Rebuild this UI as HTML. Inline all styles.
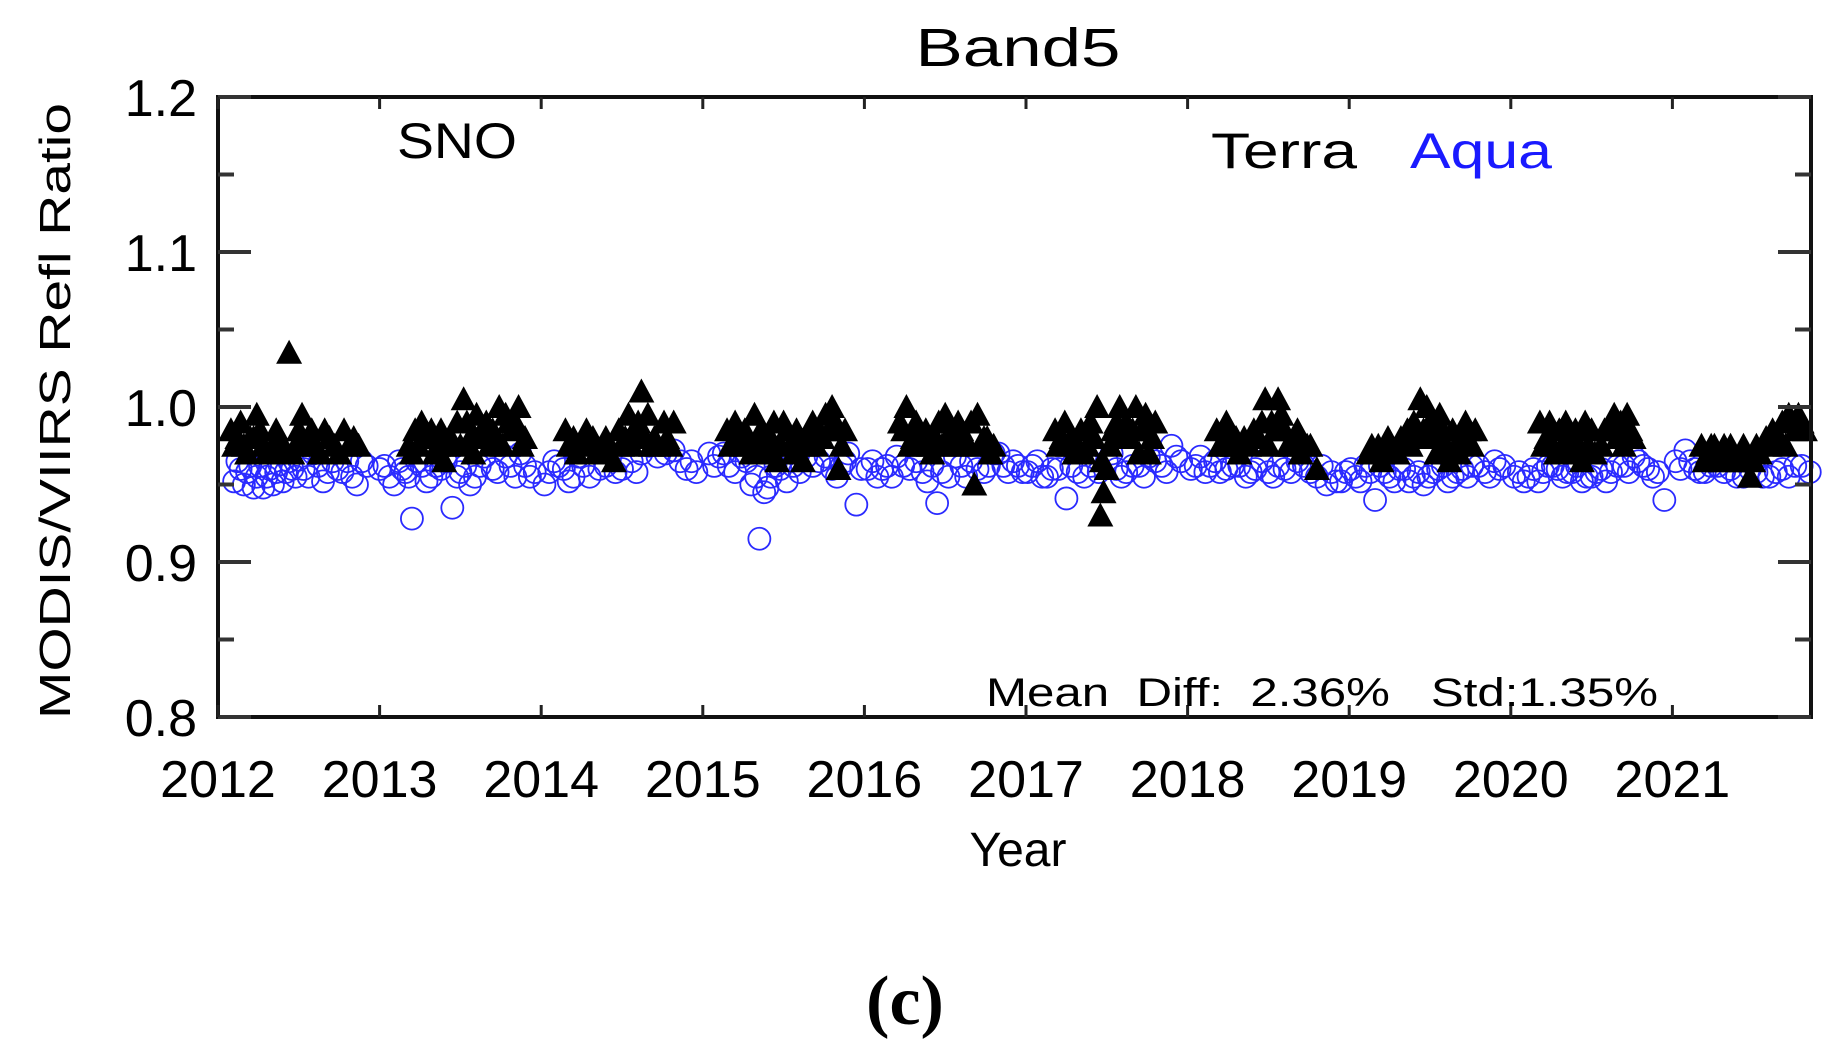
<!DOCTYPE html>
<html><head><meta charset="utf-8"><style>
body{margin:0;background:#fff;}
svg{display:block;}
text{font-family:"Liberation Sans",sans-serif;}
</style></head><body>
<svg id="chart" width="1834" height="1042" viewBox="0 0 1834 1042" xmlns="http://www.w3.org/2000/svg">
<text x="1018" y="66" font-size="54" text-anchor="middle" textLength="205" lengthAdjust="spacingAndGlyphs">Band5</text>
<g id="marks"></g>
<rect x="218" y="97" width="1593" height="620" fill="none" stroke="#111" stroke-width="4"/>
<g id="axes"></g>
<text transform="translate(70,411) rotate(-90)" font-size="44" text-anchor="middle" textLength="616" lengthAdjust="spacingAndGlyphs">MODIS/VIIRS Refl Ratio</text>
<text x="1018" y="866" font-size="48" text-anchor="middle">Year</text>
<text x="397" y="158" font-size="50" textLength="120" lengthAdjust="spacingAndGlyphs">SNO</text>
<text x="1211" y="168" font-size="50" textLength="146" lengthAdjust="spacingAndGlyphs">Terra</text>
<text x="1410" y="168" font-size="50" fill="#1a1aff" textLength="142" lengthAdjust="spacingAndGlyphs">Aqua</text>
<text x="986" y="706" font-size="40" textLength="672" lengthAdjust="spacingAndGlyphs" xml:space="preserve">Mean  Diff:  2.36%   Std:1.35%</text>
<text x="905" y="1024" font-size="70" font-weight="bold" text-anchor="middle" style="font-family:'Liberation Serif',serif">(c)</text>
</svg>
<script>
const yTicks=[0.8,0.9,1.0,1.1,1.2];
const yTickLabels=["0.8","0.9","1.0","1.1","1.2"];
const xTicks=[2012,2013,2014,2015,2016,2017,2018,2019,2020,2021];
const xTickLabels=["2012","2013","2014","2015","2016","2017","2018","2019","2020","2021"];
const terraX=[2012.08,2012.12,2012.16,2012.2,2012.24,2012.28,2012.36,2012.4,2012.44,2012.48,2012.52,2012.56,2012.6,2012.66,2012.72,2012.78,2012.84,
2013.18,2013.22,2013.26,2013.3,2013.34,2013.38,2013.42,2013.48,2013.52,2013.56,2013.6,2013.64,2013.68,2013.74,2013.8,2013.86,2013.9,
2014.15,2014.2,2014.26,2014.32,2014.38,2014.42,2014.48,2014.54,2014.58,2014.62,2014.66,2014.7,2014.76,2014.82,
2015.15,2015.2,2015.24,2015.28,2015.32,2015.36,2015.4,2015.44,2015.48,2015.52,2015.56,2015.6,2015.64,2015.68,2015.72,2015.76,2015.8,2015.84,2015.88,
2016.22,2016.26,2016.3,2016.34,2016.38,2016.42,2016.46,2016.5,2016.54,2016.58,2016.62,2016.68,2016.7,2016.74,2016.8,
2017.18,2017.22,2017.26,2017.3,2017.34,2017.38,2017.42,2017.44,2017.46,2017.48,2017.5,2017.54,2017.58,2017.62,2017.64,2017.68,2017.72,2017.76,2017.8,
2018.18,2018.22,2018.26,2018.32,2018.38,2018.44,2018.48,2018.52,2018.56,2018.6,2018.64,2018.68,2018.74,2018.8,
2019.12,2019.18,2019.24,2019.3,2019.36,2019.4,2019.44,2019.48,2019.52,2019.56,2019.6,2019.64,2019.68,2019.74,2019.78,
2020.18,2020.22,2020.26,2020.3,2020.34,2020.38,2020.42,2020.46,2020.5,2020.56,2020.6,2020.64,2020.68,2020.72,2020.76,
2021.18,2021.22,2021.26,2021.3,2021.36,2021.42,2021.46,2021.48,2021.52,2021.58,2021.62,2021.68,2021.72,2021.76,2021.8,
2012.10,2012.14,2012.18,2012.22,2012.26,2012.30,2012.34,2012.38,2012.46,2012.50,2012.54,2012.58,2012.63,2012.69,2012.75,2012.81,2012.87,
2013.20,2013.24,2013.28,2013.32,2013.36,2013.40,2013.44,2013.50,2013.54,2013.58,2013.62,2013.66,2013.70,2013.72,2013.76,2013.78,2013.82,2013.84,2013.88,
2014.17,2014.22,2014.28,2014.34,2014.40,2014.45,2014.50,2014.52,2014.56,2014.60,2014.64,2014.68,2014.72,2014.78,2014.80,
2015.17,2015.22,2015.26,2015.30,2015.34,2015.38,2015.42,2015.46,2015.50,2015.54,2015.58,2015.62,2015.66,2015.70,2015.74,2015.78,2015.82,2015.86,
2016.24,2016.28,2016.32,2016.36,2016.40,2016.44,2016.48,2016.52,2016.56,2016.60,2016.64,2016.66,2016.72,2016.76,2016.78,
2017.20,2017.24,2017.28,2017.32,2017.36,2017.40,2017.47,2017.52,2017.56,2017.60,2017.66,2017.70,2017.74,2017.78,
2018.20,2018.24,2018.28,2018.30,2018.35,2018.41,2018.46,2018.50,2018.54,2018.58,2018.62,2018.66,2018.70,2018.76,
2019.14,2019.20,2019.26,2019.32,2019.38,2019.42,2019.46,2019.50,2019.54,2019.58,2019.62,2019.66,2019.70,2019.72,2019.76,
2020.20,2020.24,2020.28,2020.32,2020.36,2020.40,2020.44,2020.48,2020.52,2020.58,2020.62,2020.66,2020.70,2020.74,
2021.20,2021.24,2021.28,2021.32,2021.38,2021.44,2021.50,2021.54,2021.60,2021.66,2021.70,2021.74,2021.78,2021.82];
const terraY=[0.985,0.98,0.975,0.98,0.995,0.975,0.985,0.97,1.035,0.975,0.995,0.98,0.975,0.985,0.975,0.985,0.98,
0.975,0.985,0.99,0.98,0.97,0.985,0.975,0.99,1.005,0.98,0.995,0.985,0.975,1.0,0.99,1.0,0.98,
0.985,0.98,0.975,0.98,0.975,0.97,0.985,0.995,0.985,1.01,0.995,0.98,0.99,0.99,
0.985,0.99,0.975,0.98,0.995,0.985,0.97,0.99,0.975,0.985,0.97,0.98,0.975,0.99,0.985,0.995,1.0,0.96,0.985,
0.99,1.0,0.98,0.975,0.985,0.97,0.99,0.995,0.985,0.99,0.98,0.95,0.995,0.98,0.975,
0.985,0.98,0.975,0.97,0.985,0.975,0.98,1.0,0.93,0.945,0.96,0.985,1.0,0.99,0.98,1.0,0.985,0.97,0.99,
0.985,0.975,0.98,0.97,0.975,0.98,1.005,0.99,1.005,0.985,0.975,0.985,0.975,0.96,
0.97,0.975,0.98,0.97,0.985,0.99,1.005,1.0,0.98,0.995,0.975,0.985,0.97,0.985,0.985,
0.99,0.98,0.975,0.985,0.99,0.97,0.975,0.99,0.985,0.975,0.985,0.995,0.99,0.995,0.98,
0.975,0.97,0.975,0.97,0.975,0.965,0.97,0.955,0.975,0.98,0.985,0.99,0.995,0.985,0.99,
0.975,0.99,0.97,0.98,0.985,0.97,0.975,0.98,0.97,0.985,0.975,0.985,0.97,0.98,0.97,0.975,0.975,
0.97,0.975,0.98,0.985,0.975,0.965,0.98,0.975,0.99,0.97,0.98,0.99,0.985,0.98,0.975,0.995,0.985,0.99,0.975,
0.975,0.97,0.985,0.97,0.98,0.965,0.975,0.98,0.975,0.99,0.98,0.975,0.975,0.98,0.975,
0.975,0.98,0.985,0.97,0.975,0.98,0.98,0.965,0.99,0.975,0.985,0.965,0.98,0.975,0.98,0.985,0.99,0.975,
0.985,0.975,0.99,0.98,0.975,0.98,0.975,0.98,0.975,0.985,0.975,0.99,0.975,0.98,0.97,
0.975,0.99,0.98,0.975,0.97,0.99,0.965,0.975,0.99,0.98,0.985,0.97,0.995,0.98,
0.975,0.99,0.975,0.98,0.98,0.985,0.99,0.975,0.985,0.995,0.975,0.98,0.97,0.975,
0.975,0.965,0.97,0.98,0.975,0.98,0.985,0.99,0.97,0.985,0.965,0.975,0.98,0.99,0.975,
0.975,0.99,0.97,0.975,0.98,0.985,0.965,0.975,0.97,0.985,0.99,0.98,0.975,0.985,
0.965,0.975,0.965,0.975,0.965,0.975,0.965,0.97,0.975,0.98,0.975,0.99,0.995,0.985];
const aquaX=[2012.1,2012.14,2012.18,2012.22,2012.26,2012.3,2012.34,2012.38,2012.42,2012.46,2012.5,2012.56,2012.62,2012.68,2012.74,2012.8,2012.86,2012.92,
2013.0,2013.06,2013.12,2013.16,2013.2,2013.26,2013.32,2013.38,2013.45,2013.5,2013.56,2013.62,2013.7,2013.78,2013.84,2013.9,2013.96,
2014.02,2014.08,2014.14,2014.2,2014.26,2014.36,2014.46,2014.56,2014.62,2014.72,2014.82,2014.9,2014.96,
2015.04,2015.1,2015.16,2015.24,2015.3,2015.35,2015.38,2015.42,2015.48,2015.56,2015.64,2015.72,2015.8,2015.86,2015.9,2015.95,
2016.02,2016.08,2016.14,2016.2,2016.28,2016.36,2016.42,2016.45,2016.52,2016.6,2016.66,2016.74,2016.8,2016.86,2016.92,2016.98,
2017.04,2017.1,2017.16,2017.25,2017.32,2017.4,2017.5,2017.56,2017.62,2017.7,2017.76,2017.84,2017.9,2017.96,
2018.02,2018.08,2018.14,2018.2,2018.28,2018.36,2018.42,2018.5,2018.56,2018.64,2018.72,2018.8,2018.86,2018.92,2018.98,
2019.04,2019.1,2019.16,2019.22,2019.28,2019.34,2019.4,2019.46,2019.52,2019.58,2019.64,2019.7,2019.76,2019.84,2019.9,2019.96,
2020.02,2020.08,2020.14,2020.2,2020.26,2020.32,2020.38,2020.44,2020.5,2020.56,2020.62,2020.7,2020.76,2020.82,2020.88,2020.95,
2021.02,2021.08,2021.14,2021.2,2021.28,2021.36,2021.44,2021.52,2021.6,2021.68,2021.76,2021.85,
2012.12,2012.16,2012.20,2012.24,2012.28,2012.32,2012.36,2012.40,2012.44,2012.48,2012.53,2012.59,2012.65,2012.71,2012.77,2012.83,2012.89,
2013.03,2013.09,2013.14,2013.18,2013.23,2013.29,2013.35,2013.41,2013.48,2013.53,2013.59,2013.65,2013.73,2013.81,2013.87,2013.93,
2014.05,2014.11,2014.17,2014.23,2014.30,2014.40,2014.50,2014.59,2014.67,2014.77,2014.86,2014.93,
2015.07,2015.13,2015.20,2015.27,2015.33,2015.40,2015.45,2015.52,2015.60,2015.68,2015.76,2015.83,2015.88,2015.98,
2016.05,2016.11,2016.17,2016.24,2016.32,2016.39,2016.48,2016.56,2016.63,2016.70,2016.77,2016.83,2016.89,2016.95,
2017.01,2017.07,2017.13,2017.20,2017.28,2017.36,2017.45,2017.53,2017.59,2017.66,2017.73,2017.80,2017.87,2017.93,
2018.05,2018.11,2018.17,2018.24,2018.32,2018.39,2018.46,2018.53,2018.60,2018.68,2018.76,2018.83,2018.89,2018.95,
2019.01,2019.07,2019.13,2019.19,2019.25,2019.31,2019.37,2019.43,2019.49,2019.55,2019.61,2019.67,2019.73,2019.80,2019.87,2019.93,
2020.05,2020.11,2020.17,2020.23,2020.29,2020.35,2020.41,2020.47,2020.53,2020.59,2020.66,2020.73,2020.79,2020.85,2020.91,
2021.05,2021.11,2021.17,2021.24,2021.32,2021.40,2021.48,2021.56,2021.64,2021.72,2021.80];
const aquaY=[0.952,0.96,0.958,0.948,0.962,0.955,0.95,0.963,0.958,0.96,0.966,0.955,0.962,0.958,0.96,0.965,0.95,0.962,
0.96,0.955,0.965,0.958,0.928,0.962,0.955,0.96,0.935,0.958,0.95,0.962,0.96,0.968,0.955,0.962,0.958,
0.95,0.965,0.96,0.955,0.962,0.96,0.958,0.965,0.97,0.968,0.972,0.96,0.958,
0.97,0.968,0.962,0.968,0.95,0.915,0.945,0.955,0.96,0.962,0.968,0.965,0.96,0.962,0.97,0.937,
0.96,0.955,0.962,0.968,0.96,0.958,0.962,0.938,0.955,0.962,0.965,0.958,0.97,0.962,0.965,0.958,
0.962,0.955,0.96,0.941,0.958,0.962,0.965,0.96,0.958,0.962,0.968,0.962,0.975,0.965,
0.96,0.968,0.962,0.958,0.962,0.955,0.96,0.958,0.962,0.958,0.962,0.955,0.95,0.952,0.958,
0.955,0.962,0.94,0.958,0.952,0.96,0.955,0.95,0.958,0.962,0.955,0.96,0.962,0.958,0.965,0.962,
0.955,0.952,0.96,0.958,0.962,0.955,0.958,0.952,0.955,0.96,0.958,0.962,0.968,0.962,0.955,0.94,
0.965,0.972,0.96,0.958,0.962,0.96,0.955,0.958,0.955,0.96,0.962,0.958,
0.965,0.95,0.962,0.955,0.948,0.96,0.958,0.952,0.965,0.955,0.96,0.97,0.952,0.965,0.958,0.955,0.965,
0.962,0.95,0.96,0.955,0.965,0.952,0.962,0.965,0.955,0.962,0.955,0.968,0.958,0.962,0.97,0.955,
0.958,0.962,0.952,0.968,0.955,0.962,0.96,0.958,0.975,0.97,0.965,0.965,
0.962,0.97,0.958,0.965,0.955,0.948,0.962,0.952,0.958,0.962,0.968,0.955,0.965,0.96,
0.965,0.96,0.955,0.962,0.965,0.952,0.958,0.968,0.955,0.96,0.962,0.97,0.958,0.962,
0.958,0.965,0.955,0.96,0.962,0.955,0.958,0.97,0.955,0.962,0.955,0.965,0.958,0.968,
0.962,0.958,0.965,0.96,0.962,0.958,0.965,0.955,0.96,0.965,0.958,0.962,0.958,0.952,
0.96,0.952,0.958,0.962,0.955,0.96,0.952,0.958,0.955,0.96,0.952,0.958,0.955,0.962,0.955,0.96,
0.958,0.955,0.952,0.962,0.96,0.958,0.962,0.955,0.958,0.952,0.962,0.958,0.965,0.96,0.958,
0.96,0.965,0.958,0.962,0.958,0.955,0.96,0.955,0.958,0.955,0.962];

const NS="http://www.w3.org/2000/svg";
const x0=218,x1=1811,y0=97,y1=717;
function xScale(v){return x0+(v-2012)*161.6;}
function yScale(v){return y1-(v-0.8)*(y1-y0)/0.4;}
function mk(tag,attrs,parent){const e=document.createElementNS(NS,tag);for(const k in attrs)e.setAttribute(k,attrs[k]);parent.appendChild(e);return e;}
const marks=document.getElementById('marks');
const axes=document.getElementById('axes');
for(let i=0;i<aquaX.length;i++){
  const c=mk('circle',{cx:xScale(aquaX[i]),cy:yScale(aquaY[i]),r:11,fill:'none',stroke:'#2a2aff','stroke-width':1.8},marks);
  
  
}
for(let i=0;i<terraX.length;i++){
  const cx=xScale(terraX[i]),cy=yScale(terraY[i]);
  const p=mk('polygon',{points:`${cx-13},${cy+11} ${cx+13},${cy+11} ${cx},${cy-13}`,fill:'#000'},marks);
  
  
}
for(let i=0;i<yTicks.length;i++){
  const y=yScale(yTicks[i]);
  const l=mk('line',{x1:x0,x2:x0+33,y1:y,y2:y,stroke:'#333','stroke-width':4},axes);
  
  
  const r=mk('line',{x1:x1-33,x2:x1,y1:y,y2:y,stroke:'#333','stroke-width':4},axes);
  
  
  const t=mk('text',{x:197,y:y+19,'font-size':52,'text-anchor':'end'},axes);
  t.textContent=yTickLabels[i];
  
  
  if(i<yTicks.length-1){
    const ym=yScale(yTicks[i]+0.05);
    const m=mk('line',{x1:x0,x2:x0+16,y1:ym,y2:ym,stroke:'#333','stroke-width':4},axes);
    
    
    const m2=mk('line',{x1:x1-16,x2:x1,y1:ym,y2:ym,stroke:'#333','stroke-width':4},axes);
    
    
  }
}
for(let i=0;i<xTicks.length;i++){
  const x=xScale(xTicks[i]);
  const b=mk('line',{x1:x,x2:x,y1:y1,y2:y1-12,stroke:'#222','stroke-width':3},axes);
  
  
  const tp=mk('line',{x1:x,x2:x,y1:y0,y2:y0+12,stroke:'#222','stroke-width':3},axes);
  
  
  const t=mk('text',{x:x,y:797,'font-size':52,'text-anchor':'middle'},axes);
  t.textContent=xTickLabels[i];
  
  
}
</script>
</body></html>
